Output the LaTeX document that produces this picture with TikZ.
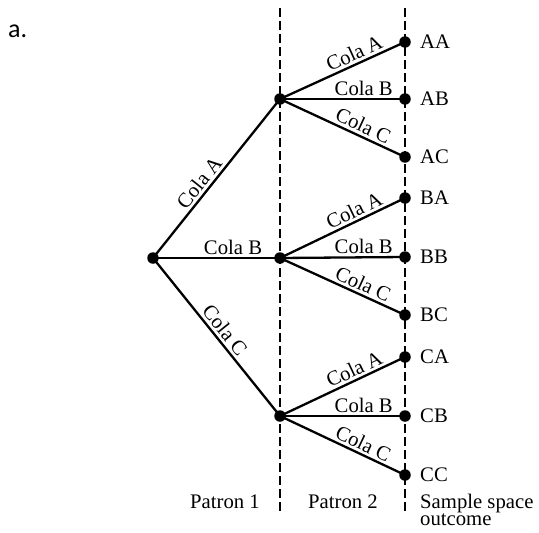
\documentclass[tikz,border=0pt]{standalone}
\usepackage{fontspec}
\setmainfont{Liberation Serif}
\newfontfamily\labelfont{Carlito}
\begin{document}
\begin{tikzpicture}[x=1pt,y=-1pt,
  dot/.style={circle,fill=black,inner sep=0pt,minimum size=11.5pt},
  edge/.style={line width=2.3pt},
  guide/.style={line width=2.4pt,dash pattern=on 8.5pt off 4.5pt},
  lab/.style={font=\fontsize{20.7}{17}\selectfont,inner sep=2.5pt},
  leaf/.style={font=\fontsize{20.7}{17}\selectfont,inner sep=0pt,anchor=west}]
\useasboundingbox (0,0) rectangle (539,533);
% guides
\coordinate (g1t) at (280,8);
\coordinate (g1b) at (280,512);
\coordinate (g2t) at (405,8);
\coordinate (g2b) at (405,512);
\draw[guide] (g1t) -- (g1b);
\draw[guide] (g2t) -- (g2b);
% nodes
\node[dot] (r) at (153,258) {};
\node[dot] (a) at (280,99) {};
\node[dot] (b) at (280,258) {};
\node[dot] (c) at (280,416) {};
\node[dot] (aa) at (405,42) {};
\node[dot] (ab) at (405,99) {};
\node[dot] (ac) at (405,157) {};
\node[dot] (ba) at (405,198) {};
\node[dot] (bb) at (405,257) {};
\node[dot] (bc) at (405,315) {};
\node[dot] (ca) at (405,357) {};
\node[dot] (cb) at (405,416) {};
\node[dot] (cc) at (405,475) {};
% first level
\draw[edge] (r.center) -- node[lab,sloped,above,pos=0.43]{Cola A} (a.center);
\draw[edge] (r.center) -- node[lab,above,pos=0.63]{Cola B} (b.center);
\draw[edge] (r.center) -- node[lab,sloped,above,pos=0.5]{Cola C} (c.center);
% second level
\foreach \p/\x/\y/\z in {a/aa/ab/ac, b/ba/bb/bc, c/ca/cb/cc}{
  \draw[edge] (\p.center) -- node[lab,sloped,above,pos=0.63]{Cola A} (\x.center);
  \draw[edge] (\p.center) -- node[lab,above,pos=0.67]{Cola B} (\y.center);
  \draw[edge] (\p.center) -- node[lab,sloped,above,pos=0.63]{Cola C} (\z.center);
}
% leaf labels
\node[leaf] (taa) at (420,42) {AA};
\node[leaf] (tab) at (420,99) {AB};
\node[leaf] (tac) at (420,157) {AC};
\node[leaf] (tba) at (420,198) {BA};
\node[leaf] (tbb) at (420,257) {BB};
\node[leaf] (tbc) at (420,315) {BC};
\node[leaf] (tca) at (420,357) {CA};
\node[leaf] (tcb) at (420,416) {CB};
\node[leaf] (tcc) at (420,475) {CC};
% bottom labels
\node[lab,inner sep=0pt,anchor=base] (p1) at (225,508) {Patron 1};
\node[lab,inner sep=0pt,anchor=base] (p2) at (343,508) {Patron 2};
\node[lab,inner sep=0pt,anchor=base west] (ss) at (420,508) {Sample space};
\node[lab,inner sep=0pt,anchor=base west] (oc) at (420,525) {outcome};
% panel letter
\node[font=\labelfont\fontsize{26}{30}\selectfont,inner sep=0pt,anchor=base west] (pa) at (8,37) {a.};
\end{tikzpicture}
\end{document}
